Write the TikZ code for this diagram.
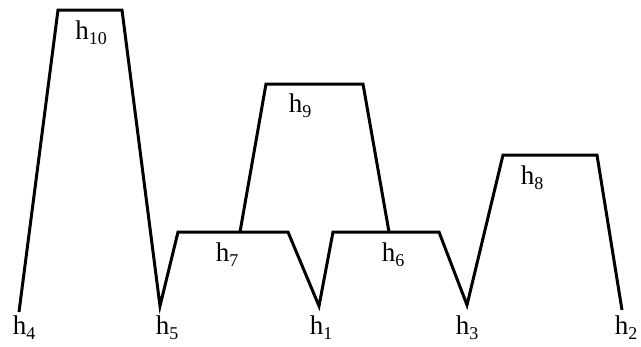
\documentclass[tikz,border=0pt]{standalone}
\usepackage{fontspec}
\setmainfont{Liberation Serif}
\newcommand\hlab[1]{h\raisebox{-0.4ex}{\fontsize{18}{18}\selectfont #1}}
\begin{document}
\begin{tikzpicture}[x=1pt,y=-1pt,
  edge/.style={line width=3pt,line join=miter,line cap=butt},
  lab/.style={inner sep=0pt,font=\fontsize{27}{27}\selectfont}]
\useasboundingbox (0,0) rectangle (641,346);
% points
\coordinate (p4) at (19,312);
\coordinate (a1) at (58,10);
\coordinate (a2) at (122,10);
\coordinate (p5) at (160,306);
\coordinate (b1) at (178,232);
\coordinate (b2) at (288,232);
\coordinate (p1) at (319,306);
\coordinate (c1) at (333,232);
\coordinate (c2) at (439,232);
\coordinate (p3) at (467,305);
\coordinate (d1) at (503,155);
\coordinate (d2) at (597,155);
\coordinate (p2) at (622,310);
\coordinate (e0) at (240,232);
\coordinate (e1) at (266,84);
\coordinate (e2) at (363,84);
\coordinate (e3) at (389,232);
% lines
\draw[edge] (p4) -- (a1) -- (a2) -- (p5) -- (b1) -- (b2) -- (p1) -- (c1) -- (c2) -- (p3) -- (d1) -- (d2) -- (p2);
\draw[edge] (e0) -- (e1) -- (e2) -- (e3);
% labels
\node[lab] (h10) at (91,33) {\hlab{10}};
\node[lab] (h9) at (300,106) {\hlab{9}};
\node[lab] (h8) at (532,178) {\hlab{8}};
\node[lab] (h7) at (227,255) {\hlab{7}};
\node[lab] (h6) at (393,255) {\hlab{6}};
\node[lab] (h4) at (24,328) {\hlab{4}};
\node[lab] (h5) at (167,328) {\hlab{5}};
\node[lab] (h1) at (321,328) {\hlab{1}};
\node[lab] (h3) at (467,328) {\hlab{3}};
\node[lab] (h2) at (626,328) {\hlab{2}};
\end{tikzpicture}
\end{document}
